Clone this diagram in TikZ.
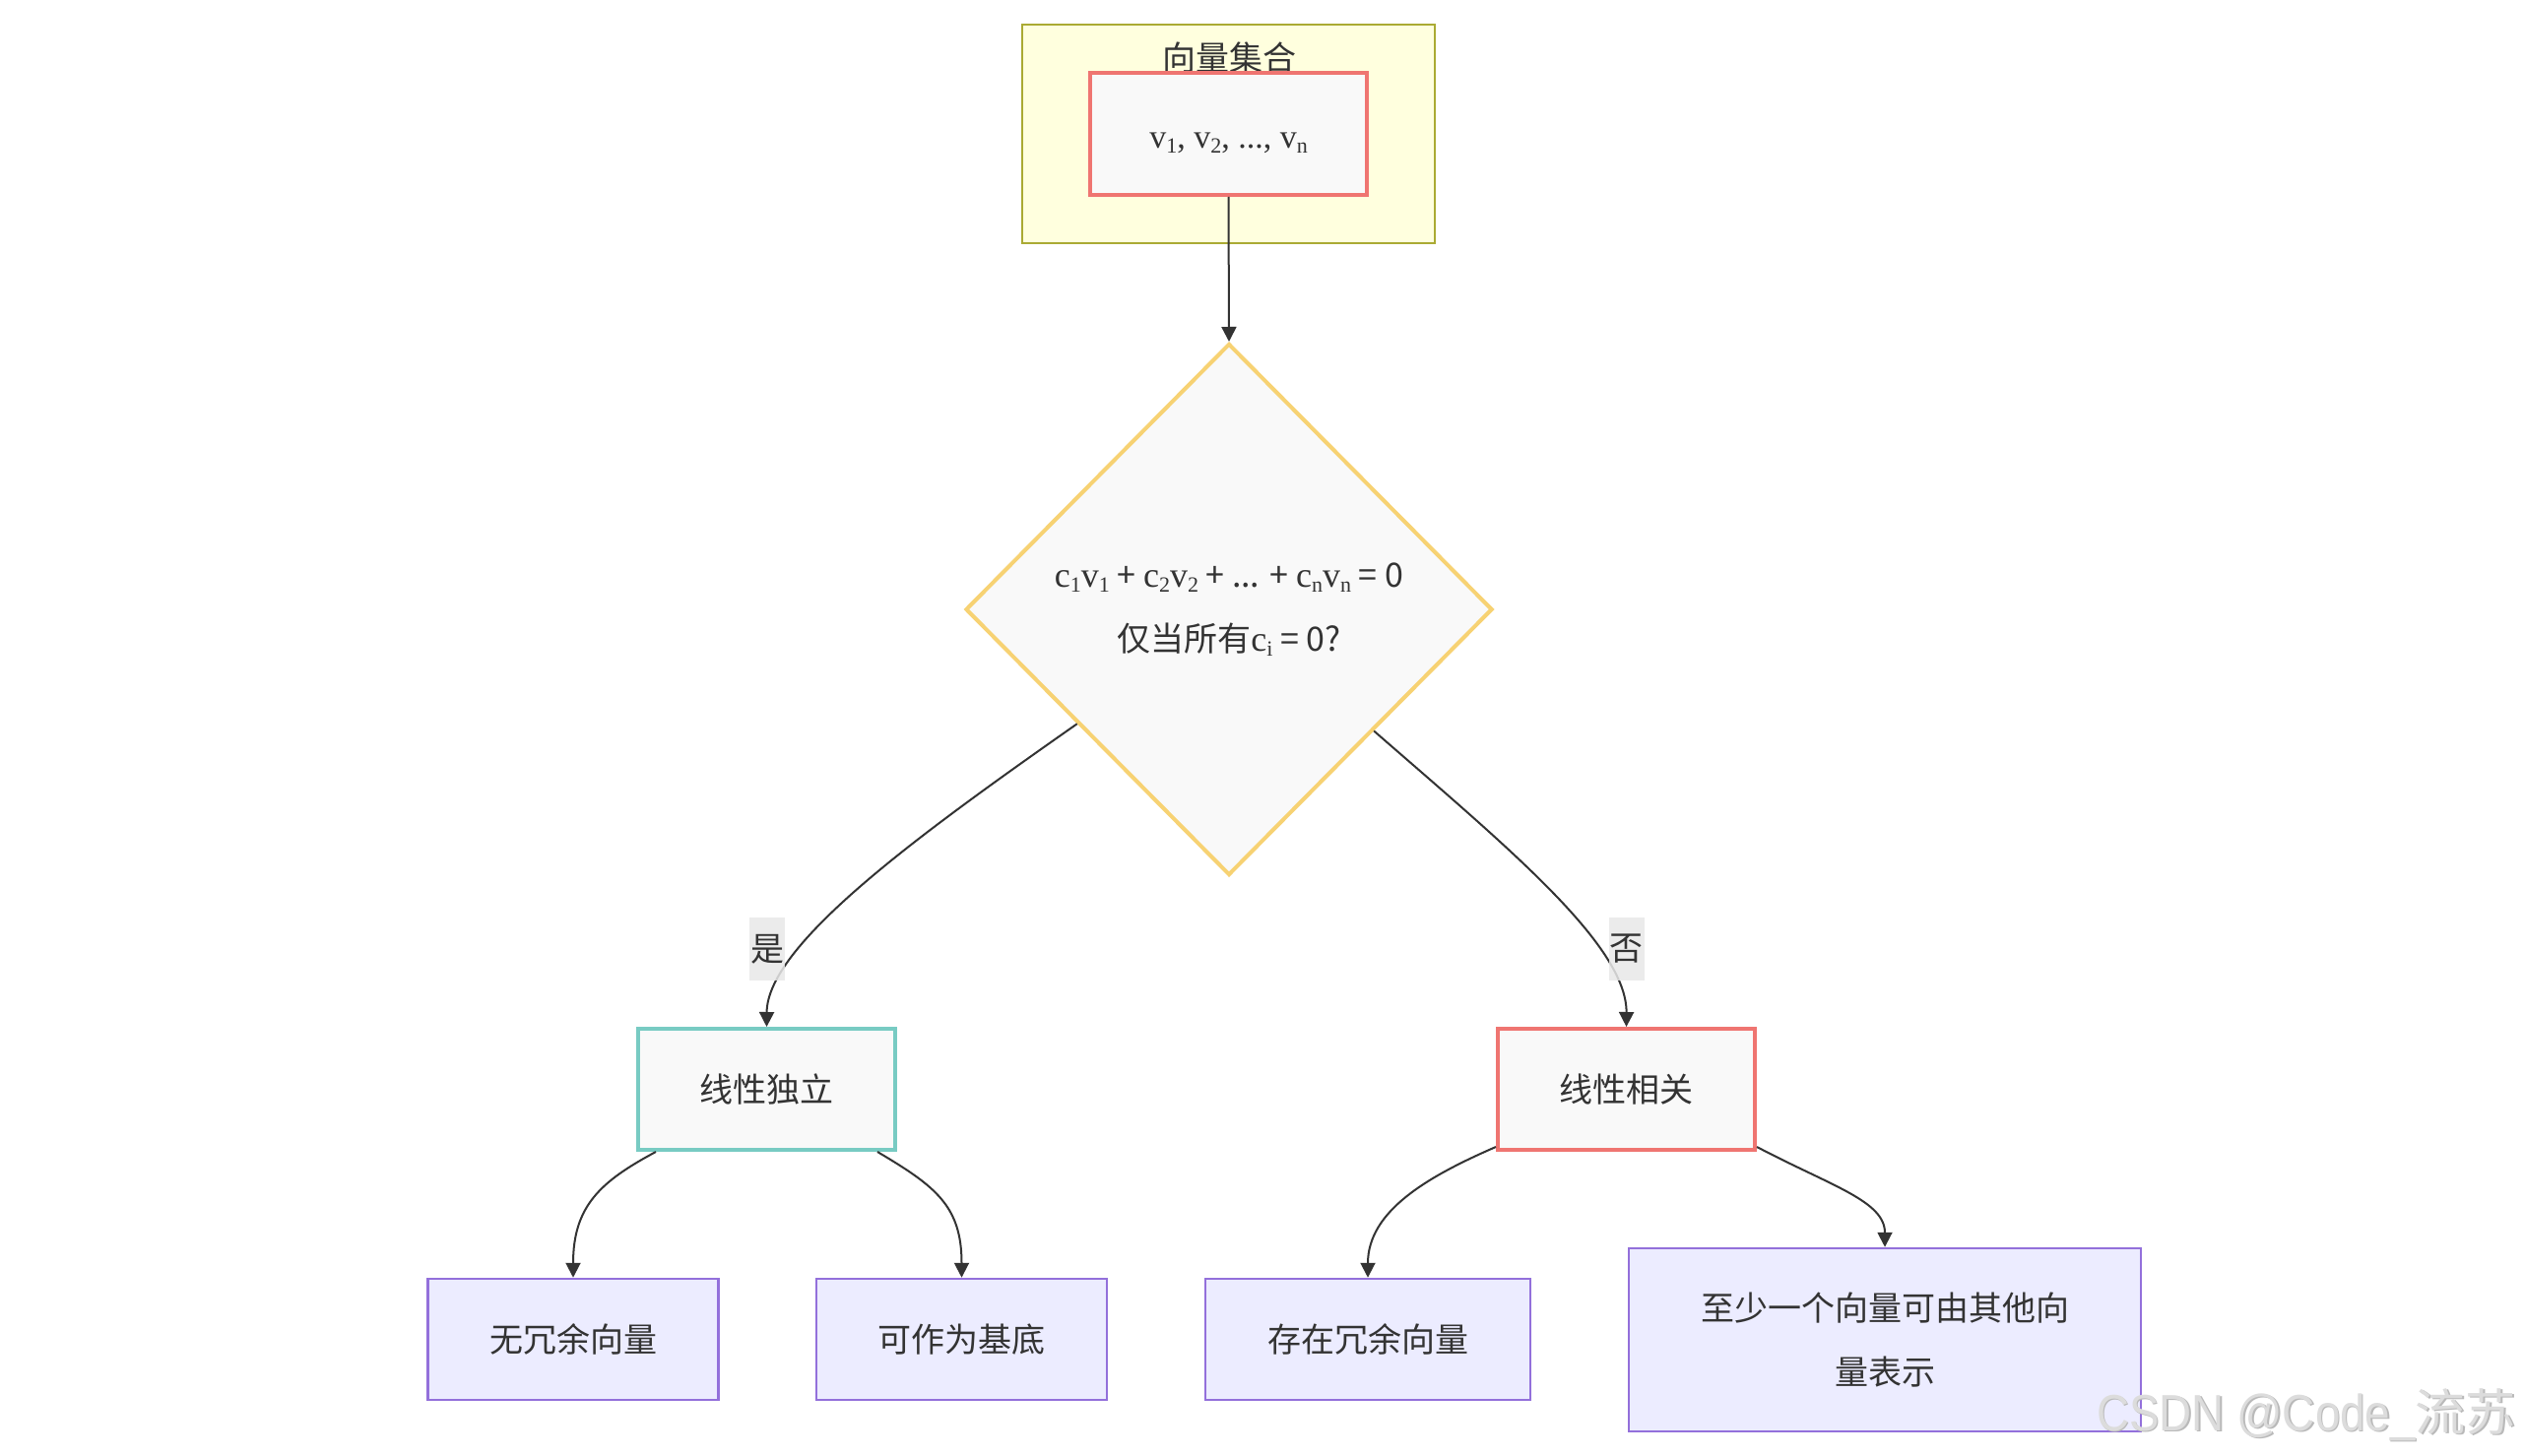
\documentclass[tikz,border=0pt]{standalone}
\usepackage{fontspec}
\setmainfont{Noto Sans CJK SC}
\newfontfamily\serfont{Liberation Serif}
\newfontfamily\wmfont{Liberation Sans}
\usetikzlibrary{arrows.meta,shapes.geometric}
\definecolor{txt}{HTML}{333333}
\definecolor{grpfill}{HTML}{FFFFDE}
\definecolor{grpline}{HTML}{AAAA33}
\definecolor{nodefill}{HTML}{F9F9F9}
\definecolor{redline}{HTML}{EF7571}
\definecolor{tealline}{HTML}{78CBC3}
\definecolor{goldline}{HTML}{F7D273}
\definecolor{purfill}{HTML}{ECECFF}
\definecolor{purline}{HTML}{9370DB}
\definecolor{lblfill}{HTML}{E8E8E8}
\definecolor{wmgray}{HTML}{DCDCDC}
\newcommand{\mysub}[1]{\raisebox{-0.12em}{\fontsize{22}{22}\selectfont #1}}
\newcommand{\mycv}[2]{{\serfont\fontsize{36}{36}\selectfont #1\mysub{#2}}}
\tikzset{
  base/.style={inner sep=0pt, text=txt, font=\fontsize{34}{65}\selectfont, align=center},
  plainbox/.style={base, rectangle, draw=#1, fill=nodefill, line width=4pt},
  leafbox/.style={base, rectangle, draw=purline, fill=purfill, line width=2.5pt},
  edge/.style={draw=txt, line width=2pt, -{Triangle[length=15pt,width=15pt]}},
  lbl/.style={base, fill=lblfill, fill opacity=0.85, text opacity=1, minimum width=36, minimum height=64}
}
\begin{document}
\begin{tikzpicture}[x=1pt,y=-1pt]
\useasboundingbox (0,0) rectangle (2562,1479);
\fill[white] (0,0) rectangle (2562,1479);

% group
\node[base, draw=grpline, fill=grpfill, line width=2pt, minimum width=419, minimum height=222] (grp) at (1247.5,136) {};
\node[base] (gtitle) at (1248,59) {向量集合};
\node[plainbox=redline, minimum width=281, minimum height=124] (vec) at (1247.5,136)
  {\raisebox{-15pt}[0pt][0pt]{\serfont\fontsize{34}{34}\selectfont v\mysub{1}, v\mysub{2}, ..., v\mysub{n}}};

% decision
\node[base, diamond, draw=goldline, fill=nodefill, line width=4pt, minimum width=535, minimum height=540] (dia) at (1248,619)
  {\mycv{c}{1}\mycv{v}{1} + \mycv{c}{2}\mycv{v}{2} + ... + \mycv{c}{n}\mycv{v}{n} = 0\\
   仅当所有\mycv{c}{i} = 0?};

% middle
\node[plainbox=tealline, minimum width=261, minimum height=123] (ind) at (778.5,1106.5) {线性独立};
\node[plainbox=redline, minimum width=261, minimum height=123] (dep) at (1651.5,1106.5) {线性相关};

% leaves
\node[leafbox, minimum width=295, minimum height=123] (l1) at (582,1360.5) {无冗余向量};
\node[leafbox, minimum width=295, minimum height=123] (l2) at (976.5,1360.5) {可作为基底};
\node[leafbox, minimum width=330, minimum height=123] (l3) at (1389,1360.5) {存在冗余向量};
\node[leafbox, minimum width=520, minimum height=186] (l4) at (1914,1361) {至少一个向量可由其他向\\量表示};

% edges
\draw[edge] (vec.south) -- (dia.north);
\draw[edge] (dia.217) .. controls (930,850) and (779,960) .. (ind.north);
\draw[edge] (dia.320) .. controls (1530,860) and (1652,960) .. (dep.north);
\draw[edge] ([xshift=20pt]ind.south west) .. controls (610,1200) and (582,1225) .. (l1.north);
\draw[edge] ([xshift=-20pt]ind.south east) .. controls (950,1205) and (976.5,1225) .. (l2.north);
\draw[edge] ([yshift=5pt]dep.south west) .. controls (1450,1195) and (1389,1230) .. (l3.north);
\draw[edge] ([yshift=5pt]dep.south east) .. controls (1860,1205) and (1914,1220) .. (l4.north);

% edge labels
\node[lbl] (yes) at (779,964) {是};
\node[lbl] (no) at (1651.5,964) {否};

% watermark
\node[anchor=base west, inner sep=0pt, text=gray!55] (wmshadow) at (2130.5,1454.5)
  {\scalebox{0.88}[1]{\wmfont\fontsize{52}{52}\selectfont CSDN @Code\_}{\fontsize{51}{51}\selectfont 流苏}};
\node[anchor=base west, inner sep=0pt, text=wmgray] (wm) at (2129,1453)
  {\scalebox{0.88}[1]{\wmfont\fontsize{52}{52}\selectfont CSDN @Code\_}{\fontsize{51}{51}\selectfont 流苏}};
\end{tikzpicture}
\end{document}
